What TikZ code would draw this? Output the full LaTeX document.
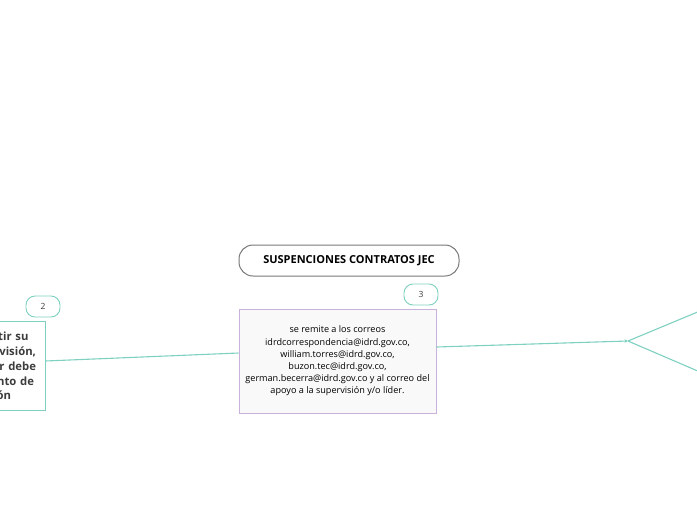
\documentclass[tikz,border=0pt]{standalone}
\usepackage{fontspec}
\setmainfont{Open Sans}
\usetikzlibrary{arrows.meta}
\definecolor{teal}{RGB}{126,208,192}
\definecolor{lilac}{RGB}{200,178,218}
\definecolor{boxfill}{RGB}{249,249,249}
\definecolor{txt}{RGB}{60,60,60}
\definecolor{titleborder}{RGB}{120,120,120}
\tikzset{
  titlebox/.style={draw=titleborder, line width=1pt, rounded corners=14pt, minimum width=220pt, minimum height=31pt, font=\bfseries\fontsize{11}{13}\selectfont, text=black},
  badge/.style={draw=teal, line width=0.9pt, rounded corners=9pt, minimum width=34pt, minimum height=21pt, font=\fontsize{8.5}{10}\selectfont, text=txt},
  mainbox/.style={draw=lilac, fill=boxfill, line width=1pt, minimum width=197pt, minimum height=104pt, align=center, font=\fontsize{9.1}{12.2}\selectfont, text=black},
  sidebox/.style={draw=teal, line width=1pt, minimum width=110pt, minimum height=89pt, align=right, text width=92pt, inner sep=9pt, font=\bfseries\fontsize{11.3}{14.8}\selectfont, text=txt},
  link/.style={draw=teal, line width=1.1pt}
}
\begin{document}
\begin{tikzpicture}[x=1pt,y=-1pt]
\useasboundingbox (0,0) rectangle (697,520);
\clip (0,0) rectangle (697,520);
\node[titlebox] (title) at (349,260.5) {SUSPENCIONES CONTRATOS JEC};
\node[mainbox] (main) at (337.5,361) {se remite a los correos\\idrdcorrespondencia@idrd.gov.co,\\william.torres@idrd.gov.co,\\buzon.tec@idrd.gov.co,\\german.becerra@idrd.gov.co y al correo del\\apoyo a la supervisión y/o líder.};
\node[badge] (b3) at (421,294.5) {3};
\node[sidebox] (side) at (-10,366) {\raisebox{0pt}[\height][0pt]{}tir su\rule{7.5pt}{0pt}\\visión,\\r debe\\nto de\rule{2pt}{0pt}\\ón\rule{25pt}{0pt}};
\node[badge] (b2) at (43,306.5) {2};
\coordinate (hub) at (628,341);
\coordinate (outA) at (700,311);
\coordinate (outB) at (700,372);
\draw[link] (side.east) ++(0,-5) coordinate (sA) (sA) -- (main.west |- 0,353) coordinate (mA);
\draw[link, -{Stealth[length=3.5pt,width=3.5pt]}] (main.east |- 0,347) -- (hub);
\draw[link] (hub) -- (outA);
\draw[link] (hub) -- (outB);
\end{tikzpicture}
\end{document}
